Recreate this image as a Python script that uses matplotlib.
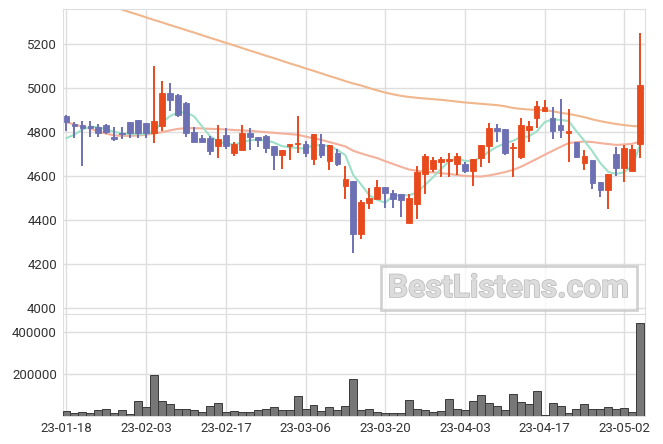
import matplotlib
matplotlib.use("Agg")
import matplotlib.pyplot as plt
import matplotlib.patheffects as pe
import numpy as np

plt.rcParams["font.family"] = ["Roboto", "DejaVu Sans"]

# trading days (KRX), 23-01-18 .. 23-05-04
dates = (
    ["23-01-%02d" % d for d in [18, 19, 20, 25, 26, 27, 30, 31]]
    + ["23-02-%02d" % d for d in [1, 2, 3, 6, 7, 8, 9, 10, 13, 14, 15, 16, 17,
                                  20, 21, 22, 23, 24, 27, 28]]
    + ["23-03-%02d" % d for d in [2, 3, 6, 7, 8, 9, 10, 13, 14, 15, 16, 17, 20,
                                  21, 22, 23, 24, 27, 28, 29, 30, 31]]
    + ["23-04-%02d" % d for d in [3, 4, 5, 6, 7, 10, 11, 12, 13, 14, 17, 18, 19,
                                  20, 21, 24, 25, 26, 27, 28]]
    + ["23-05-%02d" % d for d in [2, 3, 4]]
)

opens = [4875, 4838, 4832, 4826, 4824, 4833, 4779, 4794, 4845, 4855,
         4842, 4798, 4830, 4979, 4970, 4932, 4800, 4773, 4773, 4739,
         4788, 4707, 4721, 4797, 4777, 4783, 4738, 4694, 4739, 4744,
         4747, 4680, 4747, 4671, 4706, 4557, 4579, 4339, 4480, 4498,
         4551, 4524, 4519, 4389, 4475, 4609, 4633, 4666, 4670, 4657,
         4655, 4625, 4682, 4739, 4818, 4814, 4726, 4688, 4812, 4866,
         4897, 4864, 4833, 4794, 4756, 4659, 4674, 4573, 4539, 4700,
         4639, 4625, 4744]
highs = [4880, 4848, 4851, 4851, 4836, 4835, 4825, 4823, 4846, 4856,
         4843, 5101, 5033, 5023, 4972, 4935, 4823, 4786, 4783, 4833,
         4821, 4755, 4832, 4818, 4778, 4785, 4738, 4720, 4747, 4874,
         4759, 4792, 4792, 4742, 4723, 4648, 4580, 4492, 4545, 4582,
         4552, 4535, 4520, 4519, 4644, 4700, 4689, 4689, 4706, 4703,
         4666, 4678, 4742, 4841, 4838, 4815, 4750, 4865, 4851, 4942,
         4944, 4914, 4950, 4905, 4757, 4720, 4675, 4574, 4611, 4732,
         4742, 4741, 5253]
lows = [4805, 4773, 4644, 4780, 4777, 4790, 4760, 4771, 4774, 4773,
        4772, 4750, 4807, 4898, 4870, 4777, 4753, 4755, 4695, 4682,
        4724, 4692, 4720, 4720, 4732, 4707, 4629, 4632, 4673, 4705,
        4686, 4650, 4682, 4626, 4647, 4495, 4250, 4314, 4450, 4498,
        4455, 4455, 4412, 4389, 4405, 4518, 4618, 4595, 4595, 4606,
        4614, 4557, 4641, 4659, 4757, 4694, 4594, 4680, 4756, 4818,
        4891, 4768, 4773, 4662, 4682, 4626, 4541, 4507, 4450, 4601,
        4573, 4625, 4682]
closes = [4845, 4830, 4820, 4820, 4795, 4800, 4771, 4790, 4798, 4795,
          4795, 4851, 4979, 4944, 4880, 4798, 4757, 4757, 4716, 4768,
          4735, 4745, 4797, 4777, 4766, 4730, 4694, 4720, 4747, 4751,
          4707, 4792, 4698, 4742, 4657, 4586, 4339, 4483, 4501, 4551,
          4521, 4498, 4492, 4501, 4618, 4692, 4673, 4677, 4677, 4692,
          4625, 4677, 4742, 4818, 4803, 4703, 4733, 4833, 4827, 4920,
          4914, 4803, 4812, 4806, 4685, 4692, 4571, 4539, 4610, 4639,
          4729, 4724, 5015]
volumes = [25000, 14300, 19000, 14300, 30000, 34800, 14300, 30000, 8000, 72900,
           42900, 196700, 72900, 57100, 34800, 34800, 30000, 19000, 49000, 61900,
           19000, 25200, 19000, 19000, 30000, 34800, 42900, 30000, 30000, 95200,
           34800, 53800, 25200, 42900, 30000, 49000, 177600, 30000, 34800, 19000,
           14300, 14300, 14300, 77600, 34800, 30000, 19000, 25200, 82400, 34800,
           30000, 72900, 100000, 61900, 49000, 30000, 106000, 68000, 57100, 120500,
           5000, 61900, 49000, 14300, 34800, 57100, 34800, 34800, 42900, 34800,
           38000, 19000, 443000]

ma5 = [4773, 4789, 4812, 4825, 4822, 4813, 4801, 4795, 4791, 4791,
       4790, 4806, 4844, 4873, 4890, 4890, 4872, 4827, 4782, 4759,
       4747, 4744, 4752, 4764, 4764, 4763, 4753, 4737, 4731, 4728,
       4724, 4743, 4739, 4738, 4719, 4695, 4604, 4561, 4513, 4492,
       4479, 4511, 4513, 4513, 4526, 4560, 4595, 4632, 4667, 4682,
       4669, 4670, 4683, 4711, 4733, 4749, 4760, 4778, 4780, 4803,
       4845, 4859, 4855, 4851, 4804, 4760, 4713, 4659, 4619, 4610,
       4618, 4648, 4743]
ma20 = [4845, 4835, 4825, 4815, 4803, 4793, 4785, 4783, 4783, 4785,
        4788, 4794, 4800, 4808, 4815, 4818, 4818, 4817, 4815, 4814,
        4812, 4810, 4808, 4806, 4803, 4800, 4797, 4794, 4791, 4788,
        4780, 4772, 4765, 4755, 4745, 4735, 4715, 4703, 4692, 4682,
        4668, 4655, 4642, 4630, 4624, 4620, 4617, 4613, 4610, 4605,
        4601, 4599, 4598, 4603, 4610, 4618, 4628, 4642, 4660, 4678,
        4697, 4715, 4733, 4750, 4755, 4757, 4755, 4750, 4746, 4742,
        4744, 4747, 4757]
ma60 = [5440, 5428, 5416, 5404, 5392, 5380, 5368, 5357, 5345, 5334,
        5322, 5310, 5299, 5287, 5276, 5264, 5253, 5241, 5229, 5218,
        5206, 5195, 5183, 5171, 5160, 5148, 5137, 5125, 5113, 5102,
        5090, 5079, 5067, 5055, 5044, 5032, 5021, 5012, 5000, 4990,
        4980, 4972, 4965, 4960, 4956, 4953, 4950, 4947, 4943, 4939,
        4935, 4932, 4929, 4926, 4923, 4918, 4910, 4906, 4903, 4901,
        4900, 4895, 4888, 4883, 4876, 4868, 4858, 4850, 4843, 4837,
        4832, 4828, 4826]

UP = "#e8491d"
DOWN = "#6d70b3"
GRID = "#dedede"
TXT = "#333333"
FS = 9.5

x = np.arange(len(dates))
o = np.array(opens); c = np.array(closes)
h = np.array(highs); l = np.array(lows)
cols = np.where(c >= o, UP, DOWN)

fig = plt.figure(figsize=(6.63, 4.44), dpi=100)
L, W = 62.5 / 663, (645 - 62.5) / 663
ax = fig.add_axes([L, 1 - 314 / 444, W, (314 - 9) / 444])
axv = fig.add_axes([L, 1 - 416 / 444, W, (416 - 314) / 444], sharex=ax)

for a in (ax, axv):
    a.grid(True, color=GRID, linewidth=1.0)
    a.set_axisbelow(True)
    for s in a.spines.values():
        s.set_color(GRID)
    a.tick_params(length=0, labelsize=FS, labelcolor=TXT, pad=4)

# moving averages
ax.plot(x, ma60, color="#f0b68c", lw=1.5, zorder=2)
ax.plot(x, ma20, color="#f3b09b", lw=1.5, zorder=2)
ax.plot(x, ma5, color="#9ee0c8", lw=1.5, zorder=2)

# candles
ax.vlines(x, l, h, colors=cols, lw=1.4, zorder=3)
body = np.maximum(np.abs(c - o), 4)
ax.bar(x, body, bottom=np.minimum(o, c), width=0.72, color=cols,
       edgecolor=cols, linewidth=0.6, zorder=4)

ax.set_ylim(3973, 5360)
ax.set_yticks(range(4000, 5201, 200))
ax.set_xlim(-0.5, 72.6)
plt.setp(ax.get_xticklabels(), visible=False)

# watermark
wm = ax.text(0.766, 0.085, "BestListens.com", transform=ax.transAxes,
             ha="center", va="center", fontsize=23, fontweight="bold",
             color="#dcdcdc", zorder=6,
             bbox=dict(boxstyle="square,pad=0.22", facecolor="white", alpha=0.75,
                       edgecolor="#c4c4c4", linewidth=2))
wm.set_path_effects([pe.withStroke(linewidth=1.0, foreground="#b8b8b8")])

# volume
axv.bar(x, volumes, width=1.0, color="#777777", edgecolor="#3a3a3a",
        linewidth=0.7, zorder=3)
axv.set_ylim(0, 487000)
axv.set_yticks([200000, 400000])
axv.set_xticks(x[::10])
axv.set_xticklabels(dates[::10])

fig.savefig("out.png", dpi=100, facecolor="white")
